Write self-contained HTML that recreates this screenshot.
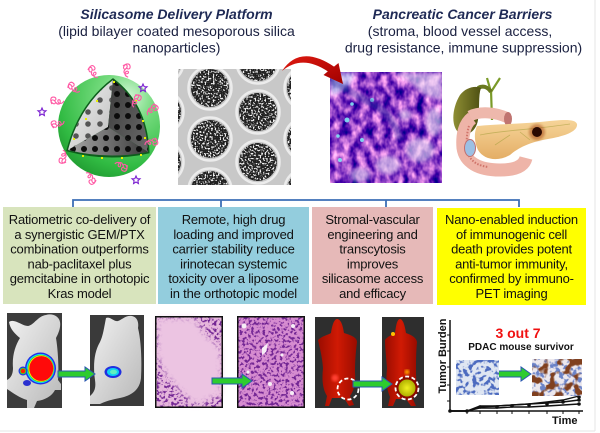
<!DOCTYPE html>
<html><head><meta charset="utf-8"><style>
html,body{margin:0;padding:0;background:#fff;}
svg{display:block;font-family:"Liberation Sans",Arial,sans-serif;}
.bt{font-size:13px;letter-spacing:-0.2px;fill:#111;text-anchor:middle;}
</style></head><body>
<svg width="600" height="433" viewBox="0 0 600 433" xmlns="http://www.w3.org/2000/svg">
<defs>
<radialGradient id="gSph" cx="0.68" cy="0.22" r="0.9">
<stop offset="0" stop-color="#d6f7da"/><stop offset="0.3" stop-color="#73da7c"/><stop offset="0.75" stop-color="#31bb43"/><stop offset="1" stop-color="#1d942d"/></radialGradient>
<linearGradient id="gL" x1="0" y1="0" x2="1" y2="1"><stop offset="0" stop-color="#f4f4f4"/><stop offset="1" stop-color="#bcbcbc"/></linearGradient>
<linearGradient id="gR" x1="0" y1="0" x2="1" y2="1"><stop offset="0" stop-color="#3a3a3a"/><stop offset="1" stop-color="#6a6a6a"/></linearGradient>
<linearGradient id="gB" x1="0" y1="0" x2="1" y2="0"><stop offset="0" stop-color="#a8a8a8"/><stop offset="1" stop-color="#3a3a3a"/></linearGradient>
<pattern id="pDL" width="12" height="12" patternUnits="userSpaceOnUse"><circle cx="4" cy="4" r="2.8" fill="#555"/></pattern>
<pattern id="pDD" width="11" height="11" patternUnits="userSpaceOnUse" x="3" y="2"><circle cx="4" cy="4" r="3" fill="#0c0c0c"/></pattern>
<g id="sq"><path d="M0,0 c2,-3 5,-2 4,1 c-1,3 -4,2 -3,-1 c1,-3 5,-4 6,-1 c1,3 -2,4 -3,2 M3,3 c-2,2 -1,5 2,4 c3,-1 1,-4 -1,-2 c-2,2 0,5 3,5" fill="none" stroke="#ff5aa5" stroke-width="1.1"/></g>
<path id="st" d="M0,-4 L1.2,-1.3 4,-1.2 1.9,0.7 2.4,3.5 0,2 -2.4,3.5 -1.9,0.7 -4,-1.2 -1.2,-1.3 Z" fill="none" stroke="#7a1fd0" stroke-width="1.1"/>
<linearGradient id="gRed" x1="0" y1="0" x2="1" y2="1"><stop offset="0" stop-color="#e01a10"/><stop offset="1" stop-color="#a00000"/></linearGradient>
<filter id="fTem" filterUnits="userSpaceOnUse" x="140" y="40" width="190" height="175" color-interpolation-filters="sRGB">
<feTurbulence type="fractalNoise" baseFrequency="0.6" numOctaves="1" seed="3" result="n"/>
<feColorMatrix in="n" type="matrix" values="0 0 0 0 0.95  0 0 0 0 0.95  0 0 0 0 0.95  8 0 0 0 -4.1" result="w"/>
<feFlood flood-color="#202020" result="fl"/>
<feComposite in="fl" in2="SourceAlpha" operator="in" result="dark"/>
<feComposite in="w" in2="SourceAlpha" operator="in" result="wc"/>
<feMerge><feMergeNode in="dark"/><feMergeNode in="wc"/></feMerge>
</filter>
<filter id="fHist" filterUnits="userSpaceOnUse" x="330" y="72" width="112" height="111" color-interpolation-filters="sRGB">
<feTurbulence type="fractalNoise" baseFrequency="0.12 0.08" numOctaves="3" seed="7"/>
<feColorMatrix type="matrix" values="0 1.7 0 0 -0.3  0 1.5 0 0 -0.5  0 0.7 0 0 0.42  0 0 0 0 1"/>
<feComposite in2="SourceAlpha" operator="in"/>
</filter>
<filter id="fNuc" color-interpolation-filters="sRGB" x="-5%" y="-5%" width="110%" height="110%">
<feTurbulence type="fractalNoise" baseFrequency="0.35" numOctaves="2" seed="2"/>
<feColorMatrix type="matrix" values="0 0 0 0 0.45  0 0 0 0 0.15  0 0 0 0 0.58  7 0 0 0 -3.5"/>
<feComposite in2="SourceAlpha" operator="in"/>
</filter>
<filter id="fNucB" color-interpolation-filters="sRGB" x="-5%" y="-5%" width="110%" height="110%">
<feTurbulence type="fractalNoise" baseFrequency="0.22" numOctaves="2" seed="5"/>
<feColorMatrix type="matrix" values="0 0 0 0 0.3  0 0 0 0 0.42  0 0 0 0 0.75  7 0 0 0 -3.4"/>
<feComposite in2="SourceAlpha" operator="in"/>
</filter>
<filter id="fBrown" color-interpolation-filters="sRGB" x="-5%" y="-5%" width="110%" height="110%">
<feTurbulence type="fractalNoise" baseFrequency="0.12" numOctaves="2" seed="9"/>
<feColorMatrix type="matrix" values="0 0 0 0 0.5  0 0 0 0 0.25  0 0 0 0 0.12  8 0 0 0 -4.0"/>
<feComposite in2="SourceAlpha" operator="in"/>
</filter>
<filter id="blur1"><feGaussianBlur stdDeviation="1.2"/></filter>
<filter id="blur2"><feGaussianBlur stdDeviation="2"/></filter>
<filter id="blur3"><feGaussianBlur stdDeviation="3"/></filter>
<linearGradient id="gMouse" x1="0" y1="0" x2="1" y2="1"><stop offset="0" stop-color="#f2f2f2"/><stop offset="1" stop-color="#b8b8b8"/></linearGradient>
<linearGradient id="gRM" x1="0" y1="0" x2="1" y2="0"><stop offset="0" stop-color="#9a0c00"/><stop offset="0.5" stop-color="#d01a04"/><stop offset="1" stop-color="#9a0c00"/></linearGradient>
<linearGradient id="gGB" x1="0" y1="0" x2="1" y2="0"><stop offset="0" stop-color="#8e8e34"/><stop offset="1" stop-color="#4e5012"/></linearGradient>
<linearGradient id="gPan" x1="0" y1="0" x2="0" y2="1"><stop offset="0" stop-color="#f6d498"/><stop offset="1" stop-color="#e4ae66"/></linearGradient>
<radialGradient id="gYel"><stop offset="0" stop-color="#f0f020"/><stop offset="1" stop-color="#b0b000"/></radialGradient>
<clipPath id="cTem"><rect x="178" y="69" width="113" height="116"/></clipPath>
<clipPath id="cHist"><rect x="330" y="72" width="112" height="111"/></clipPath>
</defs>

<line x1="595" y1="0" x2="595" y2="431" stroke="#e6e6e6" stroke-width="1"/>
<line x1="0" y1="431" x2="595" y2="431" stroke="#e6e6e6" stroke-width="1"/>

<text x="176.5" y="19" text-anchor="middle" font-size="14" font-weight="bold" font-style="italic" fill="#1f2a55">Silicasome Delivery Platform</text>
<text x="176.5" y="36" text-anchor="middle" font-size="14" fill="#1a2040">(lipid bilayer coated mesoporous silica</text>
<text x="176.5" y="52.5" text-anchor="middle" font-size="14" fill="#1a2040">nanoparticles)</text>
<text x="462.5" y="19" text-anchor="middle" font-size="14" font-weight="bold" font-style="italic" fill="#1f2a55">Pancreatic Cancer Barriers</text>
<text x="460" y="36" text-anchor="middle" font-size="14" fill="#1a2040">(stroma, blood vessel access,</text>
<text x="463.5" y="52.5" text-anchor="middle" font-size="14" fill="#1a2040">drug resistance, immune suppression)</text>

<!-- sphere -->
<circle cx="109" cy="126" r="51" fill="url(#gSph)"/>
<path d="M113,80 Q80,105 68,150 Q108,161 148,152 Q146,105 113,80 Z" fill="#0d5e1c" stroke="#0d5e1c" stroke-width="3"/>
<path d="M113,80 Q80,105 68,150 L108,127 Z" fill="url(#gL)"/>
<path d="M113,80 Q80,105 68,150 L108,127 Z" fill="url(#pDL)"/>
<path d="M113,80 L108,127 L148,152 Q146,105 113,80 Z" fill="url(#gR)"/>
<path d="M113,80 L108,127 L148,152 Q146,105 113,80 Z" fill="url(#pDD)"/>
<path d="M68,150 L108,127 L148,152 Q108,160 68,150 Z" fill="url(#gB)"/>
<path d="M68,150 L108,127 L148,152 Q108,160 68,150 Z" fill="url(#pDD)"/>
<g fill="#e8f000">
<rect x="113" y="81" width="2" height="2"/><rect x="96" y="100" width="2" height="2"/><rect x="85" y="118" width="2" height="2"/><rect x="73" y="138" width="2" height="2"/>
<rect x="82" y="155" width="2" height="2"/><rect x="101" y="157" width="2" height="2"/><rect x="121" y="157" width="2" height="2"/><rect x="140" y="154" width="2" height="2"/>
<rect x="135" y="100" width="2" height="2"/><rect x="142" y="120" width="2" height="2"/><rect x="144" y="137" width="2" height="2"/>
</g>
<use href="#sq" transform="translate(88,70) rotate(-20)"/>
<use href="#sq" transform="translate(123,66) rotate(10)"/>
<use href="#sq" transform="translate(68,88) rotate(-40)"/>
<use href="#sq" transform="translate(52,104) rotate(-70)"/>
<use href="#sq" transform="translate(54,128) rotate(-90)"/>
<use href="#sq" transform="translate(66,162) rotate(200)"/>
<use href="#sq" transform="translate(96,180) rotate(160)"/>
<use href="#sq" transform="translate(127,165) rotate(130)"/>
<use href="#sq" transform="translate(155,138) rotate(90)"/>
<use href="#sq" transform="translate(153,104) rotate(60)"/>
<use href="#sq" transform="translate(135,95) rotate(40)"/>
<use href="#st" transform="translate(42,112)"/>
<use href="#st" transform="translate(143,88)"/>
<use href="#st" transform="translate(136,180)"/>

<!-- TEM -->
<rect x="178" y="69" width="113" height="116" fill="#c8c8c8"/>
<g clip-path="url(#cTem)">
<g fill="none" stroke="#ececec" stroke-width="2.5">
<circle cx="162" cy="62" r="21.5"/><circle cx="162" cy="112" r="21.5"/><circle cx="162" cy="162" r="21.5"/>
<circle cx="210" cy="88" r="21.5"/><circle cx="210" cy="139" r="21.5"/><circle cx="210" cy="190" r="21.5"/>
<circle cx="258" cy="62" r="21.5"/><circle cx="258" cy="112" r="21.5"/><circle cx="258" cy="162" r="21.5"/>
<circle cx="306" cy="88" r="21.5"/><circle cx="306" cy="139" r="21.5"/><circle cx="306" cy="190" r="21.5"/>
</g>
<g filter="url(#fTem)" fill="#000">
<circle cx="162" cy="62" r="19"/><circle cx="162" cy="112" r="19"/><circle cx="162" cy="162" r="19"/>
<circle cx="210" cy="88" r="19"/><circle cx="210" cy="139" r="19"/><circle cx="210" cy="190" r="19"/>
<circle cx="258" cy="62" r="19"/><circle cx="258" cy="112" r="19"/><circle cx="258" cy="162" r="19"/>
<circle cx="306" cy="88" r="19"/><circle cx="306" cy="139" r="19"/><circle cx="306" cy="190" r="19"/>
</g>
</g>

<!-- histology -->
<rect x="330" y="72" width="112" height="111" fill="#000" filter="url(#fHist)"/>
<g clip-path="url(#cHist)">
<g opacity="0.6" filter="url(#blur2)">
<path d="M331,73 L355,73 L350,85 L335,95 L331,95 Z" fill="#c8f0ff"/>
<path d="M395,73 L442,73 L442,100 L425,95 L410,82 Z" fill="#f6f0fa"/>
<ellipse cx="420" cy="150" rx="14" ry="12" fill="#f2eaf8"/>
<ellipse cx="388" cy="165" rx="12" ry="9" fill="#ece2f6"/>
<ellipse cx="434" cy="122" rx="8" ry="14" fill="#f2ecf8"/>
<ellipse cx="360" cy="175" rx="10" ry="7" fill="#e8dcf4"/>
<ellipse cx="405" cy="115" rx="6" ry="5" fill="#efe6f6"/>
</g>
<g fill="#80e4f4" opacity="0.9"><circle cx="347" cy="120" r="2.5"/><circle cx="362" cy="140" r="2"/><circle cx="340" cy="160" r="2"/><circle cx="372" cy="100" r="2"/><circle cx="352" cy="104" r="1.8"/><circle cx="338" cy="136" r="1.8"/></g>
<path d="M331,80 Q355,95 375,105 Q395,118 400,140" fill="none" stroke="#3030a0" stroke-width="7" opacity="0.4" filter="url(#blur1)"/>
</g>

<!-- red arrow -->
<path d="M282,71 Q300,44 334,66.6 L338.5,63 L343,84 L323.5,75 L327.8,71.4 Q302,54 282,71 Z" fill="url(#gRed)"/>

<!-- pancreas illustration -->
<path d="M487,78 L491,92 L500,78" fill="none" stroke="#7a9a28" stroke-width="2.2"/>
<path d="M491,90 L492,120" fill="none" stroke="#7a9a28" stroke-width="2.2"/>
<path d="M478,88 C483,85 488,87 491,92" fill="none" stroke="#6a7a20" stroke-width="4"/>
<path d="M460,95 C452,108 451,125 458,132 C466,138 476,132 478,120 C480,108 478,96 481,88 C475,85 465,88 460,95 Z" fill="url(#gGB)"/>
<path d="M472,118 C464,124 462,136 463,148 C465,162 478,170 500,170 C516,170 524,166 526,158" fill="none" stroke="#eeb4a8" stroke-width="13"/>
<path d="M469,126 C466,135 466,148 469,156 C473,163 480,166 488,167" fill="none" stroke="#c8645a" stroke-width="2" stroke-dasharray="1.5 1.5" opacity="0.8"/>
<path d="M470,116 C480,111 495,112 508,118" fill="none" stroke="#eeb8ac" stroke-width="11"/>
<ellipse cx="508" cy="119" rx="4" ry="7" fill="#c07470"/>
<path d="M477,126 C495,124 520,124 540,122 C560,120 575,118 577,124 C578,131 566,136 548,139 C530,142 518,148 510,155 C498,162 484,160 478,150 C474,142 474,132 477,126 Z" fill="url(#gPan)"/>
<path d="M480,135 C505,130 530,130 570,124 M495,145 L510,135 M520,132 L530,140" fill="none" stroke="#a8a040" stroke-width="0.8" opacity="0.6"/>
<ellipse cx="470" cy="148" rx="5.5" ry="8.5" fill="#9cc0e4" stroke="#c07070" stroke-width="1"/>
<circle cx="537" cy="132" r="8" fill="#a04010" opacity="0.5" filter="url(#blur1)"/>
<circle cx="537" cy="132" r="5" fill="#2a0800"/>

<!-- bracket -->
<path d="M73,207 L73,200 L519,200 L519,207 M221,200 L221,207 M386,200 L386,207" fill="none" stroke="#3d6fb6" stroke-width="1.8"/>

<!-- boxes -->
<rect x="3" y="207" width="153" height="97" fill="#d8e4bd"/>
<rect x="158" y="207" width="151" height="97" fill="#93cddd"/>
<rect x="312" y="207" width="121" height="97" fill="#e6b9b8"/>
<rect x="437" y="208" width="149" height="97" fill="#ffff00"/>
<g class="bt">
<text x="79.5" y="224">Ratiometric co-delivery of</text>
<text x="79.5" y="238.8">a synergistic GEM/PTX</text>
<text x="79.5" y="253.6">combination outperforms</text>
<text x="79.5" y="268.4">nab-paclitaxel plus</text>
<text x="79.5" y="283.2">gemcitabine in orthotopic</text>
<text x="79.5" y="298">Kras model</text>
<text x="233.5" y="224">Remote, high drug</text>
<text x="233.5" y="238.8">loading and improved</text>
<text x="233.5" y="253.6">carrier stability reduce</text>
<text x="233.5" y="268.4">irinotecan systemic</text>
<text x="233.5" y="283.2">toxicity over a liposome</text>
<text x="233.5" y="298">in the orthotopic model</text>
<text x="372.5" y="224">Stromal-vascular</text>
<text x="372.5" y="238.8">engineering and</text>
<text x="372.5" y="253.6">transcytosis</text>
<text x="372.5" y="268.4">improves</text>
<text x="372.5" y="283.2">silicasome access</text>
<text x="372.5" y="298">and efficacy</text>
<text x="511.5" y="224">Nano-enabled induction</text>
<text x="511.5" y="238.8">of immunogenic cell</text>
<text x="511.5" y="253.6">death provides potent</text>
<text x="511.5" y="268.4">anti-tumor immunity,</text>
<text x="511.5" y="283.2">confirmed by immuno-</text>
<text x="511.5" y="298">PET imaging</text>
</g>

<!-- mouse 1 -->
<rect x="7" y="313" width="55" height="95" fill="#3c3c3c"/>
<path d="M9,322 C14,318 22,326 28,326 C34,325 38,316 46,315 C52,313 59,316 60,322 C61,328 58,334 56,338 C58,350 59,368 58,380 L61,384 L61,390 L55,390 C52,396 45,400 37,401 L34,408 L27,408 L27,400 C20,398 13,393 7,389 L7,380 C11,378 13,374 13,368 C12,356 15,346 20,338 C15,334 10,329 9,322 Z" fill="url(#gMouse)"/>
<ellipse cx="40.5" cy="368.5" rx="15.5" ry="16" fill="#2030e8"/>
<ellipse cx="40.5" cy="368.5" rx="14" ry="14.6" fill="#10d8ff"/>
<ellipse cx="40.8" cy="368.5" rx="13.2" ry="13.8" fill="#30e030"/>
<ellipse cx="41" cy="368.5" rx="12.6" ry="13.1" fill="#ffe000"/>
<ellipse cx="41.3" cy="368.5" rx="12" ry="12.4" fill="#ff0a0a"/>
<circle cx="23" cy="371" r="4.5" fill="#2030e8"/><circle cx="23" cy="371" r="3.3" fill="#30e030"/><circle cx="23" cy="371" r="2.3" fill="#ff2000"/>
<ellipse cx="27" cy="383" rx="4" ry="3" fill="#2a30d0"/>

<!-- mouse 2 -->
<rect x="90" y="315" width="54" height="91" fill="#3a3a3a"/>
<path d="M106,318 C110,316 114,322 118,321 C123,319 126,315 132,316 C137,317 139,322 138,328 C141,340 142,360 141,378 C140,388 134,394 124,397 C116,399 108,400 100,404 L90,404 L90,396 C95,392 96,387 95,380 C93,366 94,352 100,342 C103,336 104,328 106,318 Z" fill="url(#gMouse)"/>
<ellipse cx="113" cy="372" rx="8.5" ry="6" fill="#2030e0"/>
<ellipse cx="113" cy="372" rx="6" ry="4" fill="#10d0f0"/>
<ellipse cx="113.5" cy="372" rx="3.5" ry="2.3" fill="#60f0c0"/>

<!-- H&E 1 -->
<rect x="155" y="316" width="68" height="92" fill="#e6b6dc"/>
<rect x="155" y="316" width="68" height="92" fill="#000" filter="url(#fNuc)"/>
<path d="M157,318 L195,318 C200,330 210,340 221,348 L221,395 L195,405 C185,395 175,385 168,378 C162,368 157,360 157,350 Z" fill="#ecc4e2" filter="url(#blur3)"/>
<rect x="155.75" y="316.75" width="66.5" height="90.5" fill="none" stroke="#111" stroke-width="1.5"/>

<!-- H&E 2 -->
<rect x="237" y="316" width="68" height="92" fill="#d68cd0"/>
<rect x="237" y="316" width="68" height="92" fill="#000" filter="url(#fNuc)"/>
<g fill="#f6eef6"><circle cx="244" cy="326" r="2.5"/><circle cx="293" cy="326" r="2"/><path d="M262,348 L268,343 L266,352 L262,355 Z"/><circle cx="282" cy="355" r="1.5"/><circle cx="270" cy="384" r="2"/><circle cx="292" cy="393" r="2"/><circle cx="248" cy="372" r="1.5"/></g>
<rect x="237.75" y="316.75" width="66.5" height="90.5" fill="none" stroke="#111" stroke-width="1.5"/>

<!-- red mouse 1 -->
<rect x="315" y="317" width="45" height="91" fill="#2e2e2e"/>
<path d="M337,319 C341,319 343,326 344,333 C350,335 357,337 357,342 C356,350 355,360 355,372 C356,385 353,392 350,396 L354,405 L349,406 L344,398 L332,398 L329,406 L325,406 L327,396 C322,388 322,378 323,368 C322,355 319,345 318,340 C322,336 328,335 331,333 C332,326 334,319 337,319 Z" fill="url(#gRM)"/>
<circle cx="335" cy="378" r="3.5" fill="#ff4030" filter="url(#blur1)"/>
<circle cx="348" cy="389" r="10.5" fill="none" stroke="#fff" stroke-width="1.8" stroke-dasharray="4 2.5"/>

<!-- red mouse 2 -->
<rect x="382" y="317" width="42" height="91" fill="#2e2e2e"/>
<path d="M400,319 C403,319 405,326 406,333 C411,335 416,337 417,342 C416,352 416,362 416,374 C417,386 414,393 412,397 L416,406 L411,406 L406,399 L396,399 L393,406 L388,406 L390,397 C386,388 386,378 387,368 C386,356 385,346 385,340 C388,336 392,335 395,333 C396,326 397,319 400,319 Z" fill="url(#gRM)"/>
<circle cx="393" cy="334" r="2" fill="#ffc000"/>
<circle cx="407" cy="372" r="2.5" fill="#ffa000" filter="url(#blur1)"/>
<circle cx="407" cy="388" r="11.5" fill="#8a0a00"/>
<circle cx="407" cy="388" r="8.5" fill="url(#gYel)"/>
<circle cx="407" cy="388" r="11.5" fill="none" stroke="#fff" stroke-width="1.8" stroke-dasharray="4 2.5"/>

<!-- arrows -->
<g fill="#2ecc2e" stroke="#2a58b0" stroke-width="1">
<path d="M58,371 L85,371 L85,367 L95,374 L85,381 L85,377 L58,377 Z"/>
<path d="M212,378 L242,378 L242,374 L252,381 L242,388 L242,384 L212,384 Z"/>
<path d="M353,381 L382,381 L382,377 L392,384 L382,391 L382,387 L353,387 Z"/>
<path d="M493,371 L521,371 L521,367 L531,374 L521,381 L521,377 L493,377 Z"/>
</g>

<!-- chart -->
<path d="M450,320 L450,411 L583,411" fill="none" stroke="#111" stroke-width="1.5"/>
<path d="M447,335 L450,335 M447,351 L450,351 M447,367 L450,367 M447,385 L450,385 M447,401 L450,401 M467,411 L467,414 M480,411 L480,414 M497,411 L497,414 M512,411 L512,414 M529,411 L529,414 M547,411 L547,414 M563,411 L563,414 M579,411 L579,414" stroke="#111" stroke-width="1"/>
<g fill="none" stroke="#111" stroke-width="1.4">
<polyline points="450,411 467,411 480,406 497,406 512,405 529,404 547,403 563,402 579,400"/>
<polyline points="450,411 467,411 480,407 497,406 512,405 529,404 547,402 563,400 579,396"/>
<polyline points="450,411 467,411 480,408 497,408 512,407 529,407 547,406 563,405 579,404"/>
</g>
<g fill="#111">
<circle cx="450" cy="411" r="1.8"/><circle cx="467" cy="411" r="1.8"/><circle cx="480" cy="407" r="1.8"/><circle cx="497" cy="407" r="1.8"/><circle cx="512" cy="406" r="1.8"/><circle cx="529" cy="405" r="1.8"/><circle cx="547" cy="404" r="1.8"/><circle cx="563" cy="402" r="1.8"/><circle cx="579" cy="400" r="1.8"/><circle cx="579" cy="397" r="1.8"/><circle cx="579" cy="404" r="1.8"/>
</g>
<text transform="translate(446,356) rotate(-90)" text-anchor="middle" font-size="11" font-weight="bold" fill="#111">Tumor Burden</text>
<text x="518" y="338" text-anchor="middle" font-size="14" font-weight="bold" fill="#f01010">3 out 7</text>
<text x="521" y="350" text-anchor="middle" font-size="10" font-weight="bold" fill="#111">PDAC mouse survivor</text>
<text x="552" y="424" font-size="11" font-weight="bold" fill="#111">Time</text>

<!-- IHC images -->
<rect x="456" y="360" width="43" height="35" fill="#dfe6f2"/>
<rect x="456" y="360" width="43" height="35" fill="#000" filter="url(#fNucB)"/>
<rect x="532" y="359" width="50" height="37" fill="#ece8ee"/>
<rect x="532" y="359" width="50" height="37" fill="#000" filter="url(#fNucB)" opacity="0.8"/>
<rect x="532" y="359" width="50" height="37" fill="#000" filter="url(#fBrown)"/>
</svg>
</body></html>
